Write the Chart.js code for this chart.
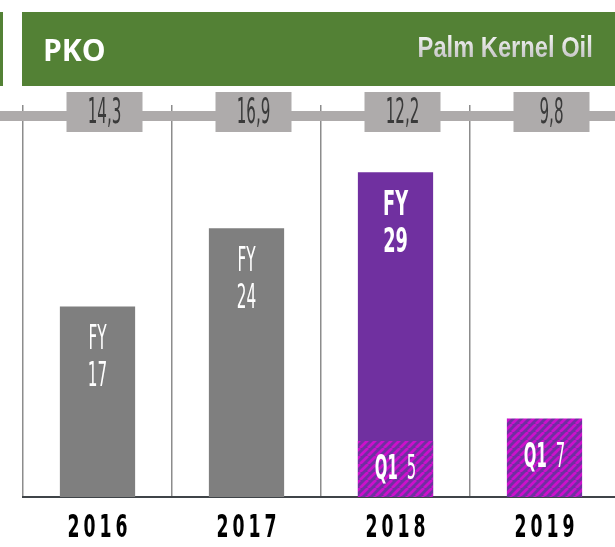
<!DOCTYPE html>
<html><head><meta charset="utf-8">
<script src="https://cdn.jsdelivr.net/npm/chart.js@4"></script>
<style>
html,body{margin:0;padding:0;width:615px;height:547px;overflow:hidden;background:#fff;}
#wrap{position:absolute;left:0;top:0;width:625px;height:547px;}
canvas{position:absolute;left:0;top:0;}
.hdr{position:absolute;background:#538135;}
#h1{left:0;top:12px;width:3px;height:74px;}
#h2{left:22px;top:12px;width:593px;height:74px;}
#pko{position:absolute;left:21px;top:0;line-height:76px;font-family:"Open Sans",sans-serif;font-weight:bold;font-size:30px;color:#fff;}
#sub{position:absolute;right:22px;top:20px;line-height:30px;font-family:"Liberation Sans",Arial,sans-serif;font-weight:bold;font-size:30px;
  transform:scaleX(0.79);transform-origin:right center;white-space:nowrap;
  background:linear-gradient(#FAFAFA,#BDBDBD);-webkit-background-clip:text;background-clip:text;color:transparent;}
</style></head>
<body>
<div id="wrap"><canvas id="c" width="625" height="547"></canvas></div>
<div class="hdr" id="h1"></div>
<div class="hdr" id="h2"><span id="pko">PKO</span><span id="sub">Palm Kernel Oil</span></div>
<script>
const categories = ['2016', '2017', '2018', '2019'];
const fyValues = [17, 24, 29, null];
const q1Values = [null, null, 5, 7];
const bandValues = [14.3, 16.9, 12.2, 9.8];

const fyColors = ['#7F7F7F', '#7F7F7F', '#7030A0', '#7030A0'];
const fyBold = [false, false, true, false];
const NARROW = '"DejaVu Sans Condensed","DejaVu Sans",sans-serif';

function makeHatch() {
  const s = 8;
  const c = document.createElement('canvas');
  c.width = s; c.height = s;
  const g = c.getContext('2d');
  g.fillStyle = '#7030A0';
  g.fillRect(0, 0, s, s);
  g.strokeStyle = '#CC10CC';
  g.lineWidth = 2.8;
  g.beginPath();
  for (let k = -1; k <= 1; k++) {
    g.moveTo(k * s, s);
    g.lineTo(k * s + s, 0);
  }
  g.stroke();
  return g.createPattern(c, 'repeat');
}

function drawText(ctx, text, x, y, font, sx, align, color, spacing) {
  ctx.save();
  ctx.font = font;
  ctx.fillStyle = color;
  ctx.textBaseline = 'middle';
  ctx.textAlign = 'left';
  const sp = spacing || 0;
  const chars = Array.from(text);
  const widths = chars.map(ch => ctx.measureText(ch).width * sx);
  const total = widths.reduce((a, b) => a + b, 0) + sp * (chars.length - 1);
  let start = x;
  if (align === 'center' || !align) start = x - total / 2;
  else if (align === 'right') start = x - total;
  let cx = start;
  chars.forEach((ch, k) => {
    ctx.save();
    ctx.translate(cx, y);
    ctx.scale(sx, 1);
    ctx.fillText(ch, 0, 0);
    ctx.restore();
    cx += widths[k] + sp;
  });
  ctx.restore();
  return total;
}
function textW(ctx, text, font, sx) {
  ctx.save(); ctx.font = font;
  const w = ctx.measureText(text).width * sx; ctx.restore(); return w;
}

const overlayPlugin = {
  id: 'overlay',
  afterDatasetsDraw(chart) {
    const ctx = chart.ctx;
    const area = chart.chartArea;
    const xs = chart.scales.x;
    // band
    ctx.save();
    ctx.fillStyle = '#AEABAB';
    ctx.fillRect(0, area.top + 6, 625, 10);
    bandValues.forEach((v, i) => {
      const cx = xs.getPixelForValue(i) + 7;
      ctx.fillStyle = '#AEABAB';
      ctx.fillRect(cx - 38, area.top - 13, 76, 40);
      drawText(ctx, v.toFixed(1).replace('.', ','), cx, area.top + 9, '35px ' + NARROW, 0.48, 'center', '#3A3A3A');
    });
    ctx.restore();

    // year labels
    categories.forEach((c, i) => {
      drawText(ctx, c, xs.getPixelForValue(i), area.bottom + 32, 'bold 32px ' + NARROW, 0.6, 'center', '#000', 4);
    });

    // FY labels
    const m0 = chart.getDatasetMeta(0);
    m0.data.forEach((bar, i) => {
      if (fyValues[i] == null) return;
      const f = (fyBold[i] ? 'bold ' : '') + '34px ' + NARROW;
      const sx = fyBold[i] ? 0.58 : 0.5;
      drawText(ctx, 'FY', bar.x, bar.y + 34, f, sx, 'center', '#fff');
      drawText(ctx, String(fyValues[i]), bar.x, bar.y + 71, f, sx, 'center', '#fff');
    });
    // Q1 labels
    const m1 = chart.getDatasetMeta(1);
    m1.data.forEach((bar, i) => {
      if (q1Values[i] == null) return;
      const fb = 'bold 33px ' + NARROW, fn = '33px ' + NARROW;
      const w1 = textW(ctx, 'Q1', fb, 0.5), w2 = textW(ctx, String(q1Values[i]), fn, 0.5);
      const gap = 9;
      const start = bar.x - (w1 + gap + w2) / 2;
      const cy = (bar.y + bar.base) / 2 + 1;
      drawText(ctx, 'Q1', start, cy, fb, 0.5, 'left', '#fff');
      drawText(ctx, String(q1Values[i]), start + w1 + gap, cy, fn, 0.5, 'left', '#fff');
    });
  }
};

new Chart(document.getElementById('c'), {
  type: 'bar',
  data: {
    labels: categories,
    datasets: [
      { label: 'FY', data: fyValues, backgroundColor: fyColors, grouped: false, order: 2,
        barPercentage: 0.505, categoryPercentage: 1 },
      { label: 'Q1', data: q1Values, backgroundColor: makeHatch(), grouped: false, order: 1,
        barPercentage: 0.505, categoryPercentage: 1 }
    ]
  },
  options: {
    responsive: false,
    animation: false,
    devicePixelRatio: 1,
    layout: { padding: { left: 23, right: 6, top: 105, bottom: 50 } },
    plugins: { legend: { display: false }, tooltip: { enabled: false } },
    scales: {
      x: {
        grid: { display: true, color: '#8C8C8C', lineWidth: 1.5, drawTicks: false, offset: true },
        border: { display: true, color: '#3F4448', width: 2 },
        ticks: { display: false }
      },
      y: { display: false, min: 0, max: 35 }
    }
  },
  plugins: [overlayPlugin]
});
</script>
</body></html>
